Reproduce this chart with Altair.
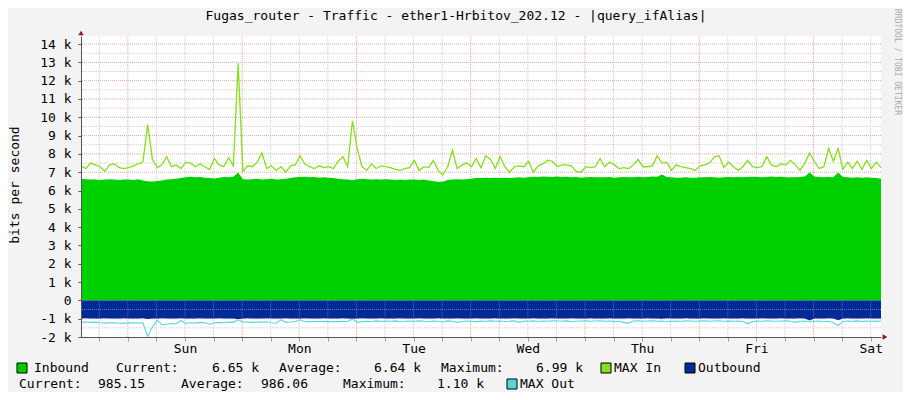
import altair as alt
import pandas as pd

# ---------------- data ----------------
START_H = -9.84          # left edge, hours relative to Sunday 00:00
N_POINTS = 169           # hourly samples over 7 days

inbound_k = [
    6.65, 6.62, 6.60, 6.60, 6.58, 6.60, 6.62, 6.60, 6.58, 6.60,
    6.60, 6.58, 6.62, 6.55, 6.50, 6.48, 6.52, 6.55, 6.60, 6.62,
    6.65, 6.68, 6.72, 6.75, 6.72, 6.74, 6.70, 6.68, 6.66, 6.70,
    6.74, 6.72, 6.75, 6.98, 6.62, 6.60, 6.62, 6.65, 6.60, 6.62,
    6.64, 6.60, 6.62, 6.65, 6.68, 6.72, 6.74, 6.75, 6.72, 6.74,
    6.70, 6.72, 6.70, 6.68, 6.65, 6.62, 6.60, 6.56, 6.62, 6.65,
    6.62, 6.60, 6.62, 6.60, 6.62, 6.60, 6.58, 6.60, 6.58, 6.60,
    6.60, 6.58, 6.60, 6.55, 6.50, 6.47, 6.48, 6.58, 6.60, 6.62,
    6.60, 6.62, 6.65, 6.68, 6.68, 6.70, 6.68, 6.70, 6.68, 6.70,
    6.68, 6.70, 6.72, 6.70, 6.72, 6.75, 6.74, 6.76, 6.75, 6.74,
    6.76, 6.74, 6.75, 6.72, 6.74, 6.70, 6.72, 6.74, 6.72, 6.73,
    6.72, 6.74, 6.70, 6.72, 6.74, 6.72, 6.73, 6.75, 6.72, 6.74,
    6.76, 6.75, 6.88, 6.74, 6.72, 6.70, 6.70, 6.72, 6.70, 6.70,
    6.72, 6.72, 6.74, 6.72, 6.70, 6.72, 6.74, 6.72, 6.74, 6.73,
    6.74, 6.75, 6.74, 6.72, 6.74, 6.76, 6.74, 6.75, 6.72, 6.73,
    6.72, 6.74, 6.76, 6.98, 6.76, 6.74, 6.72, 6.74, 6.72, 6.99,
    6.74, 6.72, 6.70, 6.72, 6.70, 6.72, 6.70, 6.68, 6.65,
]

max_in_k = [
    7.35, 7.20, 7.50, 7.40, 7.30, 7.05, 7.40, 7.45, 7.25, 7.20,
    7.25, 7.35, 7.45, 7.55, 9.60, 7.70, 7.25, 7.40, 7.85, 7.30,
    7.40, 7.20, 7.55, 7.50, 7.30, 7.45, 7.30, 7.15, 7.75, 7.40,
    7.30, 7.80, 7.35, 12.95, 7.05, 7.35, 7.30, 7.55, 8.05, 7.20,
    7.35, 7.10, 7.30, 7.00, 7.35, 7.40, 7.90, 7.45, 7.30, 7.20,
    7.35, 7.25, 7.30, 7.20, 7.60, 7.85, 7.30, 9.80, 8.30, 7.30,
    7.10, 7.45, 7.20, 7.35, 7.30, 7.25, 7.15, 7.10, 7.20, 7.25,
    7.65, 7.10, 7.30, 7.25, 7.65, 7.10, 6.85, 7.30, 8.20, 7.20,
    7.40, 7.50, 7.30, 7.75, 7.25, 7.90, 7.70, 7.20, 7.85, 7.30,
    7.00, 7.30, 7.35, 7.30, 7.60, 7.00, 7.35, 7.45, 7.65, 7.60,
    7.30, 7.40, 7.40, 7.35, 7.05, 7.00, 7.30, 7.25, 7.30, 7.75,
    7.30, 7.55, 7.40, 7.20, 7.25, 7.20, 7.40, 7.70, 7.30, 7.30,
    7.35, 7.90, 7.50, 7.55, 7.10, 7.40, 7.30, 7.25, 7.20, 7.10,
    7.35, 7.40, 7.50, 7.84, 7.90, 7.25, 7.55, 7.30, 7.10, 7.30,
    7.65, 7.30, 7.25, 7.30, 7.85, 7.40, 7.30, 7.45, 7.40, 7.65,
    7.40, 7.10, 7.50, 8.05, 7.60, 7.20, 7.30, 8.30, 7.60, 8.30,
    7.15, 7.55, 7.20, 7.60, 7.15, 7.65, 7.20, 7.55, 7.25,
]

outbound_k = [
    0.985, 0.980, 0.986, 0.990, 0.984, 0.981, 0.987, 0.990, 0.983, 0.980,
    0.986, 0.991, 0.984, 0.980, 1.020, 0.992, 0.985, 0.981, 0.986, 0.990,
    0.984, 0.979, 0.987, 0.991, 0.985, 0.982, 0.986, 0.990, 0.983, 0.981,
    0.986, 0.990, 0.984, 1.030, 0.986, 0.981, 0.984, 0.990, 0.986, 0.980,
    0.985, 0.989, 0.984, 0.982, 0.987, 0.990, 0.985, 0.981, 0.986, 0.988,
    0.984, 0.980, 0.986, 0.991, 0.985, 0.982, 0.987, 1.010, 0.986, 0.981,
    0.985, 0.990, 0.984, 0.981, 0.986, 0.989, 0.985, 0.980, 0.987, 0.990,
    0.984, 0.982, 0.986, 0.990, 0.985, 0.981, 0.986, 0.989, 0.984, 0.981,
    0.986, 0.990, 0.985, 0.982, 0.987, 0.989, 0.984, 0.981, 0.986, 0.990,
    0.985, 0.980, 0.987, 0.990, 0.984, 0.982, 0.986, 0.989, 0.985, 0.981,
    0.986, 0.990, 0.984, 0.982, 0.987, 0.989, 0.985, 0.981, 0.986, 0.990,
    0.984, 0.982, 0.986, 0.990, 0.985, 0.981, 0.987, 0.989, 0.984, 0.982,
    0.986, 0.990, 1.000, 0.982, 0.987, 0.989, 0.985, 0.981, 0.986, 0.990,
    0.984, 0.982, 0.986, 0.990, 0.985, 0.981, 0.987, 0.989, 0.984, 0.982,
    0.986, 0.990, 0.985, 0.982, 0.987, 0.989, 0.984, 0.981, 0.986, 0.990,
    0.985, 0.982, 0.986, 1.100, 0.987, 0.989, 0.984, 0.981, 0.986, 1.090,
    0.985, 0.982, 0.987, 0.989, 0.984, 0.981, 0.986, 0.988, 0.985,
]

max_out_k = [
    1.19, 1.18, 1.20, 1.19, 1.22, 1.24, 1.23, 1.22, 1.25, 1.24,
    1.23, 1.22, 1.24, 1.22, 1.97, 1.45, 1.08, 1.33, 1.30, 1.27,
    1.28, 1.10, 1.26, 1.22, 1.24, 1.20, 1.22, 1.30, 1.22, 1.20,
    1.22, 1.19, 1.20, 1.06, 1.18, 1.19, 1.20, 1.18, 1.19, 1.17,
    1.22, 1.25, 1.06, 1.20, 1.18, 1.15, 1.06, 1.17, 1.16, 1.15,
    1.15, 1.14, 1.16, 1.15, 1.16, 1.14, 1.15, 1.02, 1.20, 1.16,
    1.14, 1.15, 1.12, 1.14, 1.13, 1.14, 1.12, 1.15, 1.14, 1.13,
    1.14, 1.12, 1.14, 1.15, 1.13, 1.14, 1.18, 1.12, 1.14, 1.20,
    1.15, 1.13, 1.14, 1.16, 1.13, 1.14, 1.12, 1.14, 1.13, 1.15,
    1.14, 1.12, 1.20, 1.13, 1.14, 1.12, 1.15, 1.13, 1.14, 1.12,
    1.13, 1.14, 1.12, 1.15, 1.14, 1.13, 1.12, 1.14, 1.13, 1.12,
    1.14, 1.13, 1.15, 1.14, 1.20, 1.24, 1.13, 1.12, 1.14, 1.13,
    1.12, 1.14, 1.13, 1.15, 1.14, 1.13, 1.14, 1.12, 1.13, 1.14,
    1.13, 1.12, 1.14, 1.13, 1.12, 1.14, 1.13, 1.14, 1.13, 1.15,
    1.28, 1.16, 1.13, 1.14, 1.12, 1.13, 1.14, 1.13, 1.12, 1.14,
    1.20, 1.14, 1.13, 1.18, 1.14, 1.13, 1.15, 1.14, 1.22, 1.37,
    1.15, 1.13, 1.14, 1.12, 1.16, 1.13, 1.14, 1.13, 1.14,
]

DAY_NAMES = ["Sun", "Mon", "Tue", "Wed", "Thu", "Fri", "Sat"]
TITLE = "Fugas_router - Traffic - ether1-Hrbitov_202.12 - |query_ifAlias|"
Y_TITLE = "bits per second"
WATERMARK = "RRDTOOL / TOBI OETIKER"
SERIES = ["Inbound", "MAX In", "Outbound", "MAX Out"]
STAT_NAMES = ["Current:", "Average:", "Maximum:"]
IN_STATS = ["6.65 k", "6.64 k", "6.99 k"]
OUT_STATS = ["985.15", "986.06", "1.10 k"]

# ---------------- styling ----------------
FONT = "DejaVu Sans Mono"
C_IN = "#00CF00"
C_MAXIN = "#84E018"
C_OUT = "#002A97"
C_MAXOUT = "#55D8D5"
C_MGRID = "#EBA3A3"
C_GRID = "#CDCDCD"
C_AXIS = "#555555"
C_ARROW = "#8B1A1A"

PW, PH = 800, 301
X_DOMAIN = [START_H, START_H + 168]
Y_DOMAIN = [-2000, 14440]

hours = [START_H + i for i in range(N_POINTS)]
df = pd.DataFrame({
    "h": hours,
    "inbound": [v * 1000 for v in inbound_k],
    "outbound": [-v * 1000 for v in outbound_k],
    "max_in": [v * 1000 for v in max_in_k],
    "max_out": [-v * 1000 for v in max_out_k],
})

xs = alt.Scale(domain=X_DOMAIN, nice=False, zero=False)
ys = alt.Scale(domain=Y_DOMAIN, nice=False, zero=False)

x_tick_vals = [v for v in range(-6, 159, 6)]
day_expr = "[" + ",".join("'%s'" % d for d in DAY_NAMES) + "]"
x_axis = alt.Axis(
    values=x_tick_vals,
    labelExpr="(datum.value % 24 == 12) ? " + day_expr + "[floor(datum.value / 24)] : ''",
    tickSize=4, tickColor="#A0A0A0", domainColor=C_AXIS, domainWidth=1,
    labelFont=FONT, labelFontSize=13, labelColor="#000000", labelPadding=1,
    labelOverlap=False, labelFlush=False, labelBound=False,
    grid=False, title=None, zindex=1,
)
y_axis = alt.Axis(
    values=list(range(-2000, 14001, 1000)),
    labelExpr="datum.value == 0 ? '0\u00a0\u00a0' : (datum.value / 1000) + ' k'",
    tickSize=3, tickColor=C_AXIS, domainColor=C_AXIS, domainWidth=1,
    labelFont=FONT, labelFontSize=13, labelColor="#000000", labelPadding=7,
    labelOverlap=False, labelFlush=False, labelBound=False,
    grid=False, title=None, zindex=1,
)


def X(field):
    return alt.X(field, scale=xs, axis=x_axis)


def Y(field):
    return alt.Y(field, scale=ys, axis=y_axis)


# grid positions
minor_y = [v for v in range(-1500, 14000, 1000)]
major_y = [v for v in range(-1000, 14001, 1000)]
minor_x = [v for v in range(-6, 159, 6) if v % 24 != 0]
major_x = [v for v in range(0, 159, 24)]


def hgrid(vals, color, opacity=1.0):
    return alt.Chart(pd.DataFrame({"v": vals})).mark_rule(
        color=color, strokeDash=[1, 1], strokeWidth=1, opacity=opacity
    ).encode(y=Y("v:Q"))


def vgrid(vals, color, opacity=1.0, y_from=None, y_to=None):
    enc = dict(x=X("v:Q"))
    if y_from is not None:
        enc["y"] = alt.Y(datum=y_from, scale=ys, axis=y_axis)
        enc["y2"] = alt.datum(y_to)
    return alt.Chart(pd.DataFrame({"v": vals})).mark_rule(
        color=color, strokeDash=[1, 1], strokeWidth=1, opacity=opacity
    ).encode(**enc)


area_in = alt.Chart(df).mark_area(color=C_IN, interpolate="linear").encode(
    x=X("h:Q"), y=Y("inbound:Q"), y2=alt.datum(0),
)
area_out = alt.Chart(df).mark_area(color=C_OUT, interpolate="linear").encode(
    x=X("h:Q"), y=Y("outbound:Q"), y2=alt.datum(0),
)
line_maxin = alt.Chart(df).mark_line(color=C_MAXIN, strokeWidth=1.3).encode(
    x=X("h:Q"), y=Y("max_in:Q"),
)
line_maxout = alt.Chart(df).mark_line(color=C_MAXOUT, strokeWidth=1.1).encode(
    x=X("h:Q"), y=Y("max_out:Q"),
)


def txt(s, x, y, align="left", size=13, color="#000000", angle=0, baseline="middle"):
    kw = dict(font=FONT, fontSize=size, color=color, align=align, baseline=baseline)
    if angle:
        kw["angle"] = angle
    return alt.Chart(pd.DataFrame({"t": [s]})).mark_text(**kw).encode(
        text="t:N", x=alt.value(x), y=alt.value(y)
    )


def swatch(color, x, y):
    return alt.Chart(pd.DataFrame({"t": [0]})).mark_point(
        shape="square", filled=True, size=100, fill=color, stroke="#000000",
        strokeWidth=1, opacity=1
    ).encode(x=alt.value(x), y=alt.value(y))


def arrow(shape, x, y):
    return alt.Chart(pd.DataFrame({"t": [0]})).mark_point(
        shape=shape, filled=True, size=30, color=C_ARROW, opacity=1
    ).encode(x=alt.value(x), y=alt.value(y))


R1, R2 = 332, 348
decor = [
    txt(TITLE, 375, -20, align="center"),
    txt(Y_TITLE, -66, 149, align="center", angle=270),
    txt(WATERMARK, 816, 26, align="center", size=8, color="#AAAAAA", angle=90),
    arrow("triangle-up", 0, -3),
    arrow("triangle-right", 804, PH),
    # legend row 1
    swatch(C_IN, -59, R1),
    txt(SERIES[0], -47, R1),
    txt(STAT_NAMES[0], 35, R1),
    txt(IN_STATS[0], 178, R1, align="right"),
    txt(STAT_NAMES[1], 198, R1),
    txt(IN_STATS[1], 340, R1, align="right"),
    txt(STAT_NAMES[2], 360, R1),
    txt(IN_STATS[2], 502, R1, align="right"),
    swatch(C_MAXIN, 525, R1),
    txt(SERIES[1], 533, R1),
    swatch(C_OUT, 609, R1),
    txt(SERIES[2], 617, R1),
    # legend row 2
    txt(STAT_NAMES[0], -62, R2),
    txt(OUT_STATS[0], 64, R2, align="right"),
    txt(STAT_NAMES[1], 100, R2),
    txt(OUT_STATS[1], 227, R2, align="right"),
    txt(STAT_NAMES[2], 262, R2),
    txt(OUT_STATS[2], 403, R2, align="right"),
    swatch(C_MAXOUT, 431, R2),
    txt(SERIES[3], 439, R2),
]

chart = alt.layer(
    hgrid(minor_y, C_GRID), hgrid(major_y, C_MGRID),
    vgrid(minor_x, C_GRID), vgrid(major_x, C_MGRID),
    area_in, area_out,
    # grid shows through the outbound band
    hgrid([-500], "#8A96C8", 0.8),
    vgrid(minor_x, "#6F7FBF", 0.8, 0, -980),
    vgrid(major_x, "#9C6E9E", 0.8, 0, -980),
    line_maxin, line_maxout, *decor
).properties(
    width=PW, height=PH,
    autosize=alt.AutoSizeParams(type="none"),
    padding={"left": 73, "top": 28, "right": 22, "bottom": 55},
    background="#F3F3F3",
).configure_view(
    fill="#FFFFFF", strokeWidth=0
)

chart.save("out.html", embed_options={"renderer": "svg", "actions": False})
